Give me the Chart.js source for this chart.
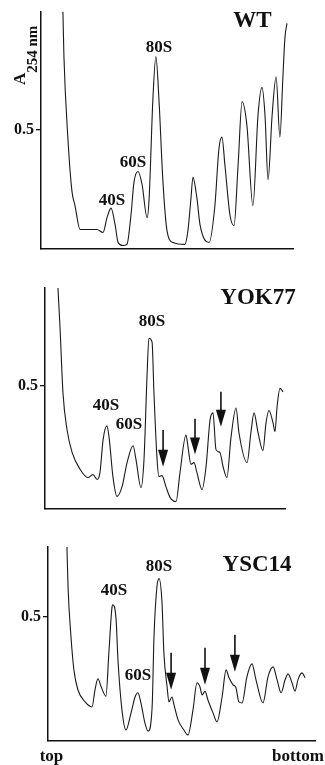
<!DOCTYPE html>
<html>
<head>
<meta charset="utf-8">
<script src="https://cdn.jsdelivr.net/npm/chart.js@4.4.1/dist/chart.umd.min.js"></script>
<style>
  html, body { margin: 0; padding: 0; background: #fff; }
  #wrap { position: relative; width: 325px; height: 765px; overflow: hidden; }
  canvas { position: absolute; left: 0; }
</style>
</head>
<body>
<div id="wrap">
  <canvas id="wt" width="325" height="260" style="top:0"></canvas>
  <canvas id="yok" width="325" height="260" style="top:260px"></canvas>
  <canvas id="ysc" width="325" height="245" style="top:520px"></canvas>
</div>
<script>
/* Sucrose gradient profiles (A254), three strains.
   x = position in gradient, 0 (top) .. 100 (bottom) */

// ── WT ──────────────────────────────────────────────────────────
const wtX = [8.7, 9.1, 10.7, 12.3, 13.5, 15.5, 18.3, 22.2, 24.6, 26.2, 27.8, 29.4, 30.6, 32.5, 34.1,
  35.7, 36.9, 38.5, 40.1, 42.1, 42.9, 44.4, 45.6, 46.8, 48.4, 50.0, 52.4, 57.1, 58.3, 59.5, 60.3,
  61.9, 63.1, 66.7, 69.0, 70.6, 71.8, 73.0, 75.0, 76.6, 78.2, 79.8, 81.7, 84.1, 86.1, 87.7, 88.9,
  90.1, 91.7, 93.3, 94.8, 96.0, 96.8, 97.6];
const wtY = [1.0, 0.81, 0.46, 0.24, 0.18, 0.08, 0.08, 0.08, 0.067, 0.13, 0.17, 0.10, 0.025, 0.012, 0.017,
  0.14, 0.28, 0.325, 0.27, 0.13, 0.21, 0.63, 0.81, 0.63, 0.28, 0.075, 0.025, 0.017, 0.075, 0.21, 0.30,
  0.21, 0.10, 0.025, 0.18, 0.42, 0.47, 0.35, 0.14, 0.096, 0.35, 0.62, 0.52, 0.18, 0.56, 0.68, 0.56,
  0.29, 0.56, 0.725, 0.47, 0.725, 0.89, 0.95];
const wtLabels = ["WT", "80S", "60S", "40S"];
const wtLabelX = [83.9, 46.8, 36.5, 28.2];
const wtLabelY = [0.958, 0.85, 0.362, 0.20];

// ── YOK77 ───────────────────────────────────────────────────────
const yokX = [5.4, 6.25, 7.5, 9.2, 11.25, 14.6, 17.9, 20.0, 21.7, 22.9, 24.2, 25.8, 26.7, 28.3, 30.0,
  32.1, 34.2, 36.7, 37.9, 40.0, 41.25, 42.5, 43.3, 44.6, 45.4, 46.7, 47.5, 48.75, 50.4, 52.1, 54.6,
  56.25, 58.75, 59.6, 60.8, 62.1, 63.3, 65.4, 67.1, 68.75, 70.0, 71.25, 72.9, 74.2, 75.8, 77.5, 79.6,
  80.8, 84.2, 85.8, 87.1, 88.75, 90.8, 92.1, 93.3, 95.0, 95.8, 96.7, 97.9, 99.2];
const yokY = [0.90, 0.74, 0.47, 0.32, 0.23, 0.16, 0.126, 0.138, 0.118, 0.146, 0.28, 0.337, 0.29, 0.13, 0.049,
  0.089, 0.187, 0.256, 0.20, 0.085, 0.20, 0.537, 0.695, 0.68, 0.47, 0.20, 0.13, 0.134, 0.089, 0.045, 0.028,
  0.146, 0.30, 0.25, 0.18, 0.187, 0.146, 0.077, 0.17, 0.36, 0.39, 0.24, 0.228, 0.17, 0.126, 0.29, 0.41,
  0.31, 0.187, 0.31, 0.39, 0.31, 0.236, 0.35, 0.40, 0.35, 0.313, 0.415, 0.49, 0.476];
const yokLabels = ["YOK77", "80S", "40S", "60S"];
const yokLabelX = [88.75, 44.6, 25.4, 35.0];
const yokLabelY = [0.858, 0.764, 0.419, 0.341];
const yokArrowX = [49.2, 62.5, 73.3];
const yokArrowFrom = [0.32, 0.366, 0.476];
const yokArrowTo = [0.17, 0.22, 0.333];

// ── YSC14 ───────────────────────────────────────────────────────
const yscX = [7.1, 7.5, 8.6, 9.7, 11.2, 13.9, 16.5, 17.6, 18.7, 19.9, 21.7, 22.8, 24.0, 24.3, 25.5,
  26.2, 27.7, 29.2, 31.1, 32.6, 33.7, 34.8, 36.3, 37.5, 39.0, 39.7, 40.8, 41.6, 42.7, 43.4, 44.6,
  45.3, 46.4, 47.2, 48.7, 50.9, 52.4, 54.3, 55.8, 56.9, 57.7, 58.8, 59.9, 61.8, 63.3, 65.2, 66.7,
  67.8, 69.3, 70.4, 71.5, 72.7, 74.5, 76.4, 77.9, 80.5, 82.4, 84.3, 85.8, 87.3, 88.8, 89.9, 91.4,
  92.5, 93.6, 95.1, 96.3];
const yscY = [0.78, 0.62, 0.42, 0.286, 0.206, 0.157, 0.137, 0.206, 0.25, 0.218, 0.18, 0.355, 0.54, 0.548, 0.488,
  0.327, 0.125, 0.044, 0.113, 0.177, 0.194, 0.153, 0.073, 0.04, 0.137, 0.42, 0.62, 0.653, 0.556, 0.355, 0.218,
  0.157, 0.177, 0.145, 0.085, 0.044, 0.024, 0.125, 0.234, 0.218, 0.185, 0.20, 0.165, 0.113, 0.077, 0.177, 0.286,
  0.254, 0.226, 0.214, 0.157, 0.153, 0.258, 0.31, 0.246, 0.153, 0.258, 0.298, 0.246, 0.194, 0.246, 0.27, 0.234,
  0.20, 0.246, 0.274, 0.254];
const yscLabels = ["YSC14", "80S", "40S", "60S"];
const yscLabelX = [78.3, 41.6, 24.7, 33.7];
const yscLabelY = [0.706, 0.70, 0.605, 0.262];
const yscArrowX = [46.1, 58.8, 70.0];
const yscArrowFrom = [0.355, 0.375, 0.427];
const yscArrowTo = [0.206, 0.226, 0.278];

// gradient ends, under the last panel
const endLabels = ["top", "bottom"];
const endLabelX = [1.3, 93.6];

const yTicks = [0.5];

// ── styling ─────────────────────────────────────────────────────
const SERIF = '"Liberation Serif", "DejaVu Serif", serif';
const INK = "#111";

// labels, arrows, axis title drawn through the chart scales
const profileMarks = {
  id: "profileMarks",
  afterDatasetsDraw(chart, args, opts) {
    const { ctx, chartArea } = chart;
    const xs = chart.scales.x, ys = chart.scales.y;
    ctx.save();
    ctx.fillStyle = INK;
    ctx.strokeStyle = INK;
    ctx.textAlign = "center";
    ctx.textBaseline = "middle";

    (opts.labels || []).forEach((t, i) => {
      ctx.font = `bold ${i === 0 ? 23 : 17}px ${SERIF}`;
      ctx.fillText(t, xs.getPixelForValue(opts.labelX[i]), ys.getPixelForValue(opts.labelY[i]));
    });

    (opts.arrowX || []).forEach((ax, i) => {
      const px = xs.getPixelForValue(ax);
      const top = ys.getPixelForValue(opts.arrowFrom[i]);
      const tip = ys.getPixelForValue(opts.arrowTo[i]);
      const head = 17, half = 5;
      ctx.lineWidth = 1.6;
      ctx.beginPath();
      ctx.moveTo(px, top);
      ctx.lineTo(px, tip - head + 2);
      ctx.stroke();
      ctx.beginPath();
      ctx.moveTo(px - half, tip - head);
      ctx.lineTo(px + half, tip - head);
      ctx.lineTo(px, tip);
      ctx.closePath();
      ctx.fill();
    });

    if (opts.ends) {
      ctx.font = `bold 17px ${SERIF}`;
      opts.ends.forEach((t, i) => {
        ctx.fillText(t, xs.getPixelForValue(opts.endX[i]), chartArea.bottom + 16);
      });
    }

    if (opts.yTitle) {
      // A with subscript 254 nm, reading upwards
      ctx.translate(chartArea.left - 16, ys.getPixelForValue(0.69));
      ctx.rotate(-Math.PI / 2);
      ctx.textAlign = "left";
      ctx.textBaseline = "alphabetic";
      ctx.font = `bold 17px ${SERIF}`;
      ctx.fillText("A", 0, 0);
      const w = ctx.measureText("A").width;
      ctx.font = `bold 15px ${SERIF}`;
      ctx.fillText("254 nm", w, 12);
    }
    ctx.restore();
  }
};

function makePanel(id, cfg) {
  const canvas = document.getElementById(id);
  const W = canvas.width, H = canvas.height;
  const a = cfg.area;
  return new Chart(canvas, {
    type: "line",
    data: {
      datasets: [{
        data: cfg.xs.map((x, i) => ({ x, y: cfg.ys[i] })),
        borderColor: "#1a1a1a",
        borderWidth: 1.1,
        pointRadius: 0,
        fill: false,
        cubicInterpolationMode: "monotone",
      }],
    },
    options: {
      responsive: false,
      devicePixelRatio: 1,
      animation: false,
      events: [],
      layout: { padding: { left: 0, top: a.top, right: W - a.right, bottom: H - a.bottom } },
      scales: {
        x: {
          type: "linear", min: 0, max: 100,
          afterFit: s => { s.height = 0; },
          ticks: { display: false },
          grid: { display: false },
          border: { display: true, color: INK, width: 1.5 },
        },
        y: {
          min: 0, max: cfg.yMax,
          afterFit: s => { s.width = a.left; },
          afterBuildTicks: s => { s.ticks = yTicks.map(v => ({ value: v })); },
          ticks: {
            color: INK, padding: 2,
            font: { family: SERIF, size: 16, weight: "bold" },
            callback: v => v.toFixed(1),
          },
          grid: { drawOnChartArea: false, drawTicks: true, tickLength: 5, color: INK, lineWidth: 1.3 },
          border: { display: true, color: INK, width: 1.5 },
        },
      },
      plugins: {
        legend: { display: false },
        tooltip: { enabled: false },
        profileMarks: cfg.marks,
      },
    },
    plugins: [profileMarks],
  });
}

makePanel("wt", {
  xs: wtX, ys: wtY, yMax: 1.0,
  area: { left: 41, top: 10, right: 293, bottom: 251 },
  marks: { labels: wtLabels, labelX: wtLabelX, labelY: wtLabelY, yTitle: true },
});

makePanel("yok", {
  xs: yokX, ys: yokY, yMax: 0.9,
  area: { left: 45, top: 28, right: 285, bottom: 249 },
  marks: {
    labels: yokLabels, labelX: yokLabelX, labelY: yokLabelY,
    arrowX: yokArrowX, arrowFrom: yokArrowFrom, arrowTo: yokArrowTo,
  },
});

makePanel("ysc", {
  xs: yscX, ys: yscY, yMax: 0.78,
  area: { left: 48, top: 27, right: 315, bottom: 221 },
  marks: {
    labels: yscLabels, labelX: yscLabelX, labelY: yscLabelY,
    arrowX: yscArrowX, arrowFrom: yscArrowFrom, arrowTo: yscArrowTo,
    ends: endLabels, endX: endLabelX,
  },
});
</script>
</body>
</html>
